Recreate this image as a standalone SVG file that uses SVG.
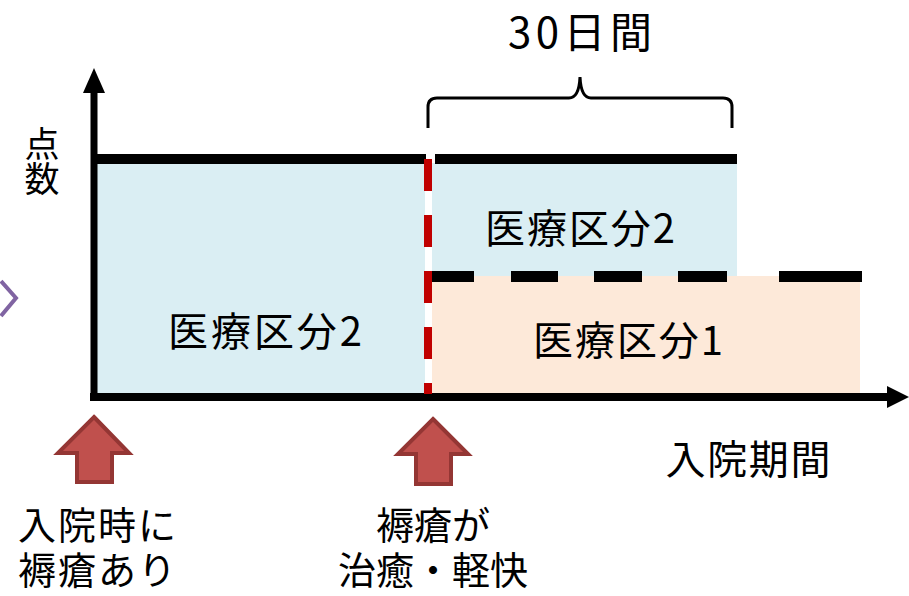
<svg xmlns="http://www.w3.org/2000/svg" width="909" height="596" viewBox="0 0 909 596">
<style>
text{font-family:"Noto Sans CJK JP","Noto Sans CJK SC",sans-serif;fill:#000;text-anchor:middle}
.lbl{font-size:40px}
.low{font-size:38px}
.bar{fill:#000}
.up{fill:#C0504D;stroke:#943634;stroke-width:4;stroke-linejoin:miter}
</style>
<rect width="909" height="596" fill="#fff"/>
<g id="regions">
<rect id="left-zone" x="97" y="163" width="328" height="231" fill="#DAEEF3"/>
<rect id="right-upper" x="432" y="163" width="305" height="113" fill="#DAEEF3"/>
<rect id="right-lower" x="432" y="276" width="428" height="118" fill="#FDE9D9"/>
</g>
<g id="connectors">
<path d="M94,397 V90" stroke="#000" stroke-width="7" fill="none"/>
<polygon points="94,68 83,93 105,93" fill="#000"/>
<path d="M90,397 H890" stroke="#000" stroke-width="8" fill="none"/>
<polygon points="909,397 887,386 887,408" fill="#000"/>
<rect class="bar" x="94" y="154" width="332" height="10"/>
<rect class="bar" x="435" y="154" width="302" height="10"/>
<g id="dash-black">
<rect class="bar" x="426" y="271" width="48" height="11"/>
<rect class="bar" x="511" y="271" width="47" height="11"/>
<rect class="bar" x="594" y="271" width="48" height="11"/>
<rect class="bar" x="678" y="271" width="49" height="11"/>
<rect class="bar" x="779" y="271" width="83" height="11"/>
</g>
<path d="M428,159 V394" stroke="#C00000" stroke-width="8" stroke-dasharray="32 24" fill="none"/>
<path d="M428,128 V107 Q428,98 437,98 H569 Q579,98 580,77 Q581,98 591,98 H723 Q732,98 732,107 V128" stroke="#000" stroke-width="3" fill="none"/>
<polyline points="1,281 16,298 1,316" stroke="#8064A2" stroke-width="4" fill="none"/>
</g>
<g id="arrow-left">
<polygon class="up" points="94,417 129,453 112,453 112,482 77,482 77,453 58,453"/>
</g>
<g id="arrow-mid">
<polygon class="up" points="433,419 468,454 451,454 451,484 416,484 416,454 398,454"/>
</g>
<g id="labels">
<text x="580" y="48" font-size="42" textLength="144" lengthAdjust="spacing">30日間</text>
<text x="42" y="161" font-size="35" style="writing-mode:vertical-rl">点数</text>
<text class="lbl" x="580" y="243" textLength="190" lengthAdjust="spacing">医療区分2</text>
<text class="lbl" x="265" y="346" textLength="194" lengthAdjust="spacing">医療区分2</text>
<text class="lbl" x="628" y="355" textLength="190" lengthAdjust="spacing">医療区分1</text>
<text class="lbl" x="748" y="474" textLength="165" lengthAdjust="spacing">入院期間</text>
<text class="low" x="97" y="539"><tspan x="97" textLength="158" lengthAdjust="spacing">入院時に</tspan><tspan x="97" dy="45" textLength="158" lengthAdjust="spacing">褥瘡あり</tspan></text>
<text class="low" x="433" y="539"><tspan x="433">褥瘡が</tspan><tspan x="433" dy="45" textLength="190" lengthAdjust="spacing">治癒・軽快</tspan></text>
</g>
</svg>
